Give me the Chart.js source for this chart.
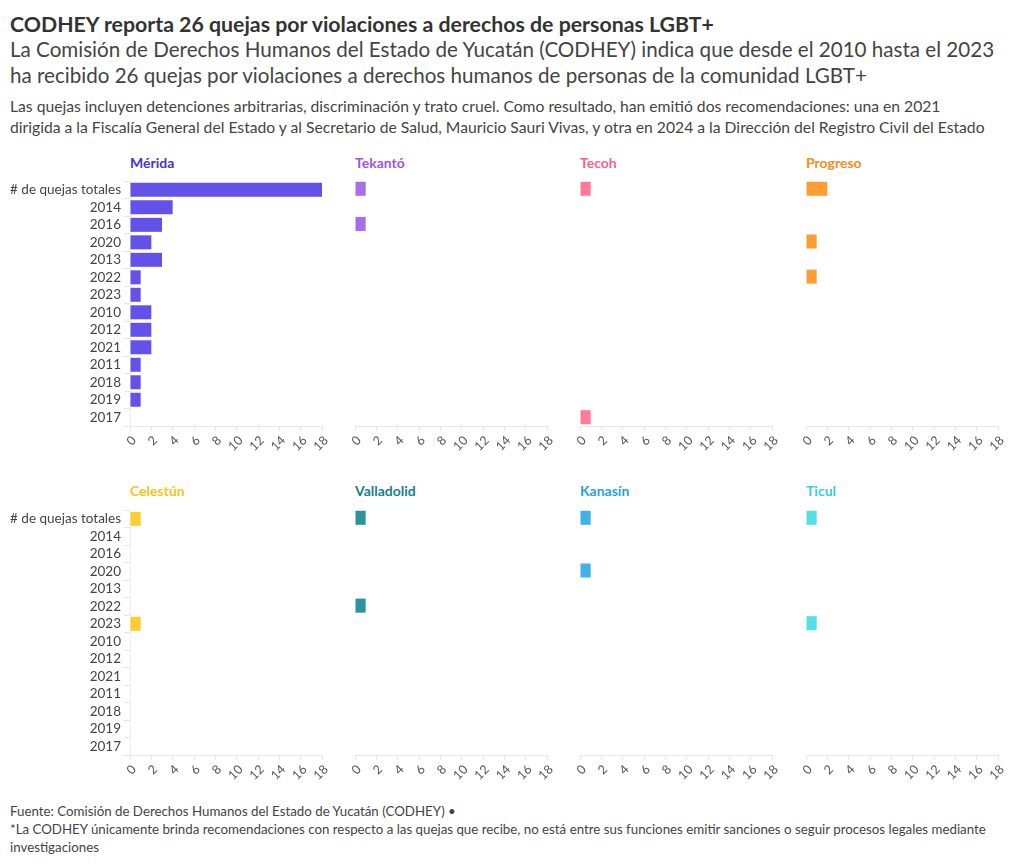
<!DOCTYPE html>
<html>
<head>
<meta charset="utf-8">
<script src="https://cdn.jsdelivr.net/npm/chart.js@4"></script>
<style>
  html, body { margin: 0; padding: 0; background: #fff; }
  body { width: 1020px; height: 866px; position: relative; overflow: hidden; font-family: "Lato", "Noto Sans", sans-serif; color: #444; }
  .txt { position: absolute; left: 10px; white-space: nowrap; }
  #title { top: 11px; font-size: 21.3px; font-weight: 700; color: #333; }
  #subtitle { top: 36px; font-size: 20.6px; line-height: 26px; color: #444; }
  #desc { top: 96px; font-size: 15.7px; line-height: 21px; color: #444; }
  #foot { top: 802px; font-size: 13.3px; line-height: 18px; color: #444; }
  .ptitle { position: absolute; font-size: 14px; font-weight: 700; white-space: nowrap; }
  canvas { position: absolute; }
</style>
</head>
<body>
<div id="title" class="txt">CODHEY reporta 26 quejas por violaciones a derechos de personas LGBT+</div>
<div id="subtitle" class="txt">La Comisión de Derechos Humanos del Estado de Yucatán (CODHEY) indica que desde el 2010 hasta el 2023<br>ha recibido 26 quejas por violaciones a derechos humanos de personas de la comunidad LGBT+</div>
<div id="desc" class="txt">Las quejas incluyen detenciones arbitrarias, discriminación y trato cruel. Como resultado, han emitió dos recomendaciones: una en 2021<br>dirigida a la Fiscalía General del Estado y al Secretario de Salud, Mauricio Sauri Vivas, y otra en 2024 a la Dirección del Registro Civil del Estado</div>
<div id="foot" class="txt">Fuente: Comisión de Derechos Humanos del Estado de Yucatán (CODHEY) •<br>*La CODHEY únicamente brinda recomendaciones con respecto a las quejas que recibe, no está entre sus funciones emitir sanciones o seguir procesos legales mediante<br>investigaciones</div>

<script>
// --- Data ---
const categories = ['# de quejas totales', '2014', '2016', '2020', '2013', '2022', '2023', '2010', '2012', '2021', '2011', '2018', '2019', '2017'];
const municipios = ['Mérida', 'Tekantó', 'Tecoh', 'Progreso', 'Celestún', 'Valladolid', 'Kanasín', 'Ticul'];

const merida     = [18, 4, 3, 2, 3, 1, 1, 2, 2, 2, 1, 1, 1, 0];
const tekanto    = [1, 0, 1, 0, 0, 0, 0, 0, 0, 0, 0, 0, 0, 0];
const tecoh      = [1, 0, 0, 0, 0, 0, 0, 0, 0, 0, 0, 0, 0, 1];
const progreso   = [2, 0, 0, 1, 0, 1, 0, 0, 0, 0, 0, 0, 0, 0];
const celestun   = [1, 0, 0, 0, 0, 0, 1, 0, 0, 0, 0, 0, 0, 0];
const valladolid = [1, 0, 0, 0, 0, 1, 0, 0, 0, 0, 0, 0, 0, 0];
const kanasin    = [1, 0, 0, 1, 0, 0, 0, 0, 0, 0, 0, 0, 0, 0];
const ticul      = [1, 0, 0, 0, 0, 0, 1, 0, 0, 0, 0, 0, 0, 0];

const xTicks = [0, 2, 4, 6, 8, 10, 12, 14, 16, 18];

const seriesByPanel = [merida, tekanto, tecoh, progreso, celestun, valladolid, kanasin, ticul];

// --- Styles ---
const barColors   = ['#6451e9', '#a66ee8', '#ff7a98', '#ff9d35', '#ffcd2e', '#2c939f', '#41b1ea', '#52dfe8'];
const titleColors = ['#4a31d6', '#9a56e0', '#f4628a', '#f48c1e', '#f6c51c', '#177e8b', '#2aa0e2', '#3ccbe0'];

const plotLefts = [130, 355, 580, 806];
const plotWidth = 192;
const rowTops = [170, 499];
const titleTops = [154, 482];

Chart.defaults.font.family = 'Lato, "Noto Sans", sans-serif';
Chart.defaults.color = '#555';
Chart.defaults.animation = false;

function makePanel(i) {
    const col = i % 4;
    const row = Math.floor(i / 4);
    const showLabels = col === 0;
    const left = showLabels ? 0 : plotLefts[col] - 10;
    const width = plotLefts[col] + plotWidth + 16 - left;
    const height = 296;

    const title = document.createElement('div');
    title.className = 'ptitle';
    title.textContent = municipios[i];
    title.style.left = plotLefts[col] + 'px';
    title.style.top = titleTops[row] + 'px';
    title.style.color = titleColors[i];
    document.body.appendChild(title);

    const canvas = document.createElement('canvas');
    canvas.width = width;
    canvas.height = height;
    canvas.style.left = left + 'px';
    canvas.style.top = rowTops[row] + 'px';
    document.body.appendChild(canvas);

    new Chart(canvas, {
        type: 'bar',
        data: {
            labels: categories,
            datasets: [{
                data: seriesByPanel[i],
                backgroundColor: barColors[i],
                borderWidth: 0,
                categoryPercentage: 0.8,
                barPercentage: 1
            }]
        },
        options: {
            indexAxis: 'y',
            responsive: false,
            layout: { padding: { top: 10, right: 16, left: showLabels ? 0 : 10, bottom: 0 } },
            plugins: { legend: { display: false }, tooltip: { enabled: false } },
            scales: {
                x: {
                    min: 0,
                    max: 18,
                    afterBuildTicks: (scale) => { scale.ticks = xTicks.map(v => ({ value: v })); },
                    afterFit: (scale) => { scale.height = 40; },
                    ticks: { autoSkip: false, minRotation: 45, maxRotation: 45, labelOffset: 4, font: { size: 12.5 }, color: '#555', padding: 2 },
                    grid: { drawOnChartArea: false, drawTicks: true, tickLength: 5, color: '#e6e6e6' },
                    border: { display: true, color: '#e6e6e6' }
                },
                y: {
                    display: showLabels,
                    afterFit: (scale) => { scale.width = showLabels ? 130 : 0; },
                    ticks: { autoSkip: false, font: { size: 13.5 }, color: '#444', padding: 3 },
                    grid: { drawOnChartArea: false, drawTicks: true, tickLength: 6, color: '#e6e6e6' },
                    border: { display: true, color: '#eeeeee' }
                }
            }
        }
    });
}

municipios.forEach((m, i) => makePanel(i));
</script>
</body>
</html>
